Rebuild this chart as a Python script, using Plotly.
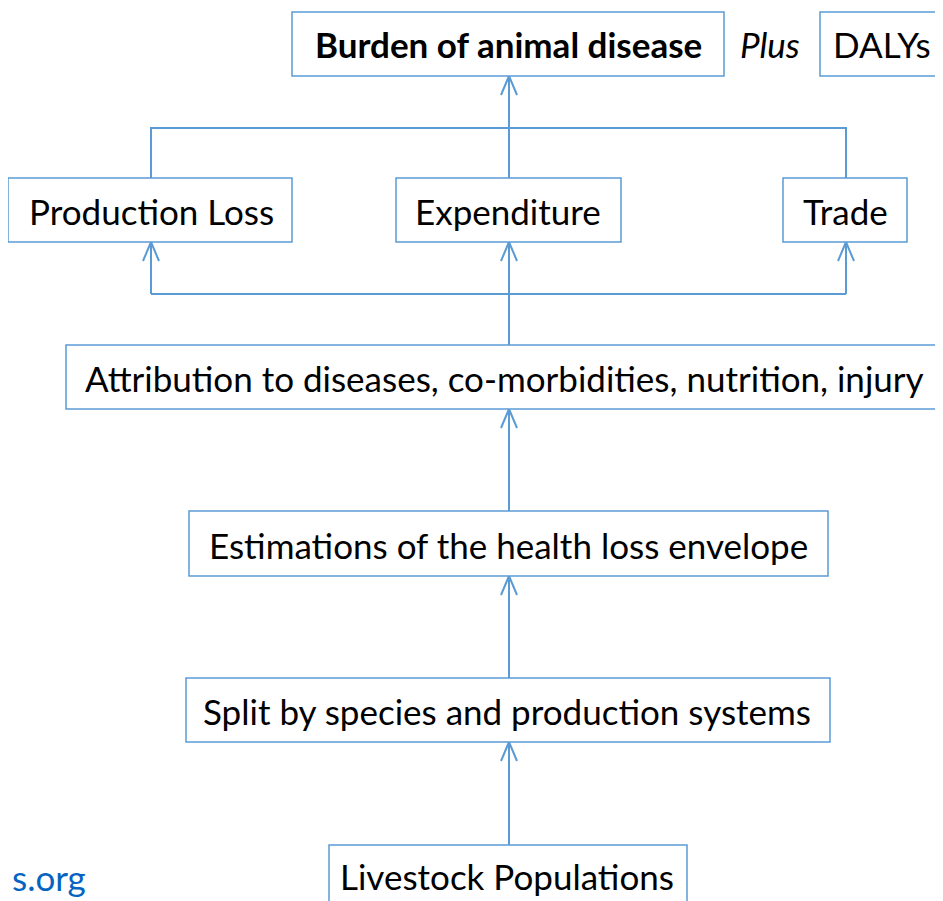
import plotly.graph_objects as go

# Boxes of the flowchart (labels and their extents in diagram units)
labels = ["Burden of animal disease", "DALYs", "Production Loss", "Expenditure", "Trade",
          "Attribution to diseases, co-morbidities, nutrition, injury",
          "Estimations of the health loss envelope",
          "Split by species and production systems",
          "Livestock Populations"]
box_x0 = [292, 820, 8, 396, 783, 66, 189, 186, 329]
box_x1 = [724, 960, 292, 621, 907, 960, 828, 830, 687]
box_y0 = [12, 12, 178, 178, 178, 345, 511, 678, 845]
box_y1 = [76, 76, 242, 242, 242, 409, 576, 742, 920]
label_x = [508, 882, 151, 508, 845, 504, 508, 507, 507]
label_y = [44, 44, 211, 211, 211, 378, 545, 711, 876]
bold = [True, False, False, False, False, False, False, False, False]

# Connectors (arrow tips at end)
connectors = [
    ([151, 151, 846, 846], [178, 128, 128, 178]),
    ([509, 509], [178, 76]),
    ([509, 509], [345, 294]),
    ([151, 846], [294, 294]),
    ([151, 151], [294, 242]),
    ([509, 509], [294, 242]),
    ([846, 846], [294, 242]),
    ([509, 509], [511, 409]),
    ([509, 509], [678, 576]),
    ([509, 509], [845, 742]),
]
arrow_tips_x = [509, 151, 509, 846, 509, 509, 509]
arrow_tips_y = [76, 242, 242, 242, 409, 576, 742]

LINE = "#5b9bd5"
FONT = "Lato"
FS = 35

fig = go.Figure()

for xs, ys in connectors:
    fig.add_trace(go.Scatter(x=xs, y=ys, mode="lines",
                             line=dict(color=LINE, width=2), hoverinfo="skip",
                             showlegend=False))

for tx, ty in zip(arrow_tips_x, arrow_tips_y):
    fig.add_trace(go.Scatter(x=[tx - 8, tx, tx + 8], y=[ty + 19, ty, ty + 19],
                             mode="lines", line=dict(color=LINE, width=2),
                             hoverinfo="skip", showlegend=False))

for lab, x0, x1, y0, y1, lx, ly, b in zip(labels, box_x0, box_x1, box_y0, box_y1,
                                          label_x, label_y, bold):
    fig.add_shape(type="rect", xref="x", yref="y", x0=x0, x1=x1, y0=y0, y1=y1,
                  line=dict(color=LINE, width=1.5), fillcolor="white", layer="above")
    txt = f"<b>{lab}</b>" if b else lab
    fig.add_annotation(x=lx, y=ly, xref="x", yref="y", text=txt, showarrow=False,
                       font=dict(family=FONT, size=FS, color="black"))

fig.add_annotation(x=10, y=877, xref="x", yref="y", text="s.org", showarrow=False,
                   xanchor="left", font=dict(family=FONT, size=FS, color="#0563c1"))

fig.add_annotation(x=770, y=44, xref="x", yref="y", text="<i>Plus</i>", showarrow=False,
                   font=dict(family=FONT, size=FS, color="black"))

# page body has an 8px margin; shift the ranges so diagram units equal window pixels
fig.update_xaxes(range=[8, 951], visible=False, fixedrange=True)
fig.update_yaxes(range=[909, 8], visible=False, fixedrange=True)
fig.update_layout(width=943, height=901, margin=dict(l=0, r=0, t=0, b=0),
                  plot_bgcolor="white", paper_bgcolor="white")

fig.write_html("out.html")
